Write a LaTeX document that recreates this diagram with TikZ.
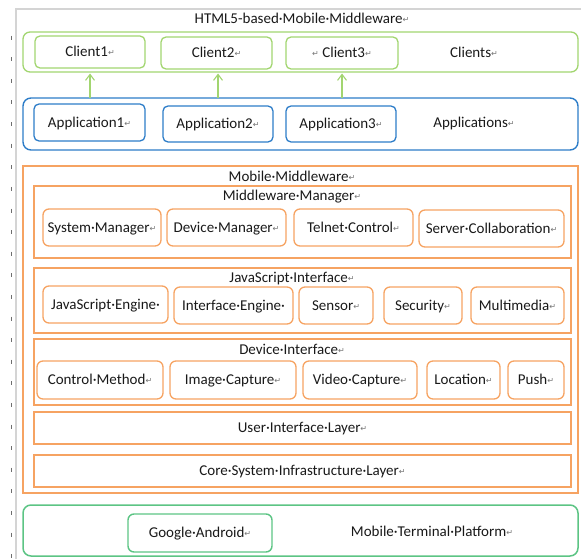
\documentclass[tikz,border=0pt]{standalone}
\usepackage{fontspec}
\setmainfont{Carlito}
\newfontfamily\dvs{DejaVu Sans}
\usetikzlibrary{arrows.meta}
\definecolor{cgreen}{RGB}{162,213,112}
\definecolor{cblue}{RGB}{45,125,200}
\definecolor{corange}{RGB}{246,163,98}
\definecolor{cteal}{RGB}{92,196,132}
\definecolor{ctext}{RGB}{25,25,25}
\definecolor{cframe}{RGB}{212,212,212}
\definecolor{ctick}{RGB}{110,110,110}
\newcommand{\ret}{{\dvs\fontsize{8}{8}\selectfont\raisebox{0.15em}{\textcolor{black!55}{↵}}}}
\newcommand{\mybox}[7]{\node[#1, minimum width={(#5-#3)*1pt}, minimum height={(#6-#4)*1pt}] (#2) at ({(#3+#5)/2},{(#4+#6)/2}) {#7};}
\tikzset{
  base/.style={draw, inner sep=0pt, outer sep=0pt, font=\fontsize{15}{17}\selectfont, text=ctext, align=center, text height=9.5pt, text depth=0pt},
  gbox/.style={base, draw=cgreen, line width=1.3pt, rounded corners=5pt},
  gouter/.style={base, draw=cgreen, line width=1.3pt, rounded corners=7pt},
  bbox/.style={base, draw=cblue, line width=1.3pt, rounded corners=5pt},
  bouter/.style={base, draw=cblue, line width=1.4pt, rounded corners=8pt},
  obox/.style={base, draw=corange, line width=1.3pt, rounded corners=6pt},
  olayer/.style={base, draw=corange, line width=1.2pt},
  touter/.style={base, draw=cteal, line width=1.5pt, rounded corners=8pt},
  tbox/.style={base, draw=cteal, line width=1.4pt, rounded corners=6pt},
  lbl/.style={inner sep=0pt, outer sep=0pt, font=\fontsize{15}{17}\selectfont, text=ctext, text height=9.5pt, text depth=0pt},
  garrow/.style={draw=cgreen, line width=1.1pt, -{Straight Barb[length=6pt,width=9pt]}, shorten >=1.5pt},
  pageframe/.style={draw=cframe, line width=2pt},
  tickmark/.style={draw=ctick, line width=0.9pt}
}
\begin{document}
\begin{tikzpicture}[x=1pt,y=-1pt]
\useasboundingbox (0,0) rectangle (581,559);
% page frame and ruler ticks
\draw[pageframe] (15.5,559) -- (15.5,9) -- (581,9);
\foreach \k in {0,...,24} \draw[tickmark] (11,{35.7+21.6*\k}) -- ++(0,4);
% title
\node[lbl] (title) at (302,19) {HTML5-based·Mobile·Middleware\ret};
% clients
\mybox{gouter}{clients}{23}{32}{578}{72}{}
\mybox{gbox}{c1}{35}{36}{145}{68}{Client1\ret}
\mybox{gbox}{c2}{161}{37}{272}{69}{Client2\ret}
\mybox{gbox}{c3}{286}{37}{398}{69}{\ret\ Client3\ret}
\node[lbl] (clientslbl) at (474,53) {Clients\ret};
% applications
\mybox{bouter}{apps}{23}{98}{578}{150}{}
\mybox{bbox}{a1}{34}{104}{145}{141}{Application1\ret}
\mybox{bbox}{a2}{163}{106}{273}{142}{Application2\ret}
\mybox{bbox}{a3}{286}{106}{396}{142}{Application3\ret}
\node[lbl] (appslbl) at (474,123) {Applications\ret};
% arrows
\draw[garrow] (apps.north -| c1) -- (clients.south -| c1);
\draw[garrow] (apps.north -| a2) -- (clients.south -| a2);
\draw[garrow] (apps.north -| c3) -- (clients.south -| c3);
% mobile middleware
\mybox{olayer}{mm}{23}{166}{578}{493}{}
\node[lbl] (mmlbl) at (292,177) {Mobile·Middleware\ret};
\mybox{olayer}{mgr}{34}{186}{571}{258}{}
\node[lbl] (mgrlbl) at (292,196) {Middleware·Manager\ret};
\mybox{obox}{sysm}{43}{209}{161}{246}{System·Manager\ret}
\mybox{obox}{devm}{167}{209}{286}{246}{Device·Manager\ret}
\mybox{obox}{tel}{294}{209}{413}{246}{Telnet·Control\ret}
\mybox{obox}{srv}{419}{210}{564}{247}{Server·Collaboration\ret}
\mybox{olayer}{jsi}{34}{268}{571}{333}{}
\node[lbl] (jsilbl) at (292,277.5) {JavaScript·Interface\ret};
\mybox{obox}{jse}{43}{286}{168}{323}{JavaScript·Engine·}
\mybox{obox}{ife}{174}{287}{293}{324}{Interface·Engine·}
\mybox{obox}{sen}{299}{287}{373}{324}{Sensor\ret}
\mybox{obox}{sec}{384}{287}{462}{324}{Security\ret}
\mybox{obox}{mul}{471}{287}{564}{324}{Multimedia\ret}
\mybox{olayer}{dvi}{34}{339}{571}{405}{}
\node[lbl] (dvilbl) at (292,350) {Device·Interface\ret};
\mybox{obox}{ctl}{37}{361}{163}{399}{Control·Method\ret}
\mybox{obox}{img}{170}{361}{296}{399}{Image·Capture\ret}
\mybox{obox}{vid}{303}{361}{417}{399}{Video·Capture\ret}
\mybox{obox}{loc}{427}{361}{500}{399}{Location\ret}
\mybox{obox}{psh}{508}{361}{564}{399}{Push\ret}
\mybox{olayer}{uil}{34}{412}{571}{444}{User·Interface·Layer\ret}
\mybox{olayer}{csi}{34}{455}{571}{487}{Core·System·Infrastructure·Layer\ret}
% platform
\mybox{touter}{plat}{23}{505}{578}{556}{}
\mybox{tbox}{andr}{128}{514}{272}{552}{Google·Android\ret}
\node[lbl] (platlbl) at (432,532) {Mobile·Terminal·Platform\ret};
\end{tikzpicture}
\end{document}
